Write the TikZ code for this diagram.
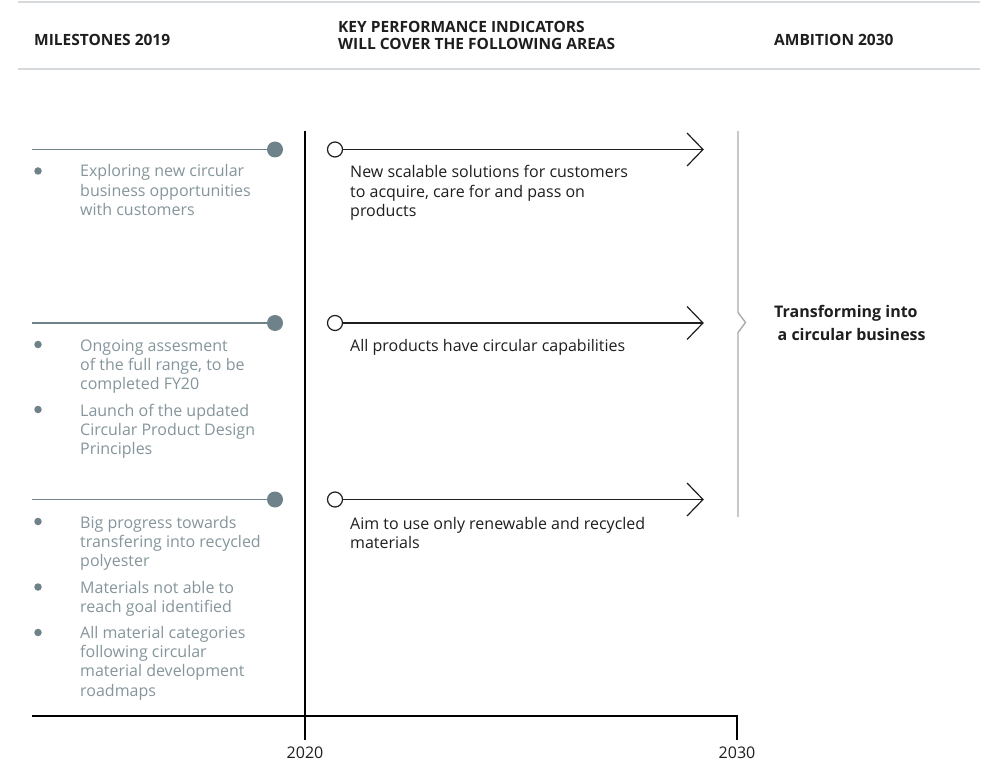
\documentclass[tikz,border=0pt]{standalone}
\usepackage{fontspec}
\setmainfont{Open Sans}
\definecolor{msgray}{HTML}{6F8189}
\definecolor{txtgray}{HTML}{84959B}
\definecolor{rulegray}{HTML}{D6DADC}
\definecolor{bracegray}{HTML}{ABABAB}
\definecolor{ink}{HTML}{1E1E1E}
\tikzset{
  head/.style={font=\bfseries\fontsize{15.5}{17}\selectfont, text=ink, inner sep=0, anchor=base west, align=left},
  mtext/.style={font=\fontsize{16}{19.2}\selectfont, text=txtgray, inner sep=0, anchor=base west, align=left},
  ktext/.style={font=\fontsize{16}{19.2}\selectfont, text=ink, inner sep=0, anchor=base west, align=left},
  atext/.style={font=\bfseries\fontsize{16}{22.5}\selectfont, text=ink, inner sep=0, anchor=base west, align=left},
  ylabel/.style={font=\fontsize{16}{19}\selectfont, text=ink, inner sep=0, anchor=base},
  msdot/.style={circle, fill=msgray, minimum size=16pt, inner sep=0},
  bdot/.style={circle, fill=msgray, minimum size=7.5pt, inner sep=0},
  msline/.style={draw=msgray, line width=1.6pt},
  kpicirc/.style={circle, draw=ink, fill=white, line width=1.2pt, minimum size=15pt, inner sep=0},
  kpiline/.style={draw=ink, line width=1.2pt},
  hrule/.style={draw=rulegray, line width=1.5pt},
  axis/.style={draw=black, line width=1.3pt},
  bracel/.style={draw=bracegray, line width=1.4pt},
}
\begin{document}
\begin{tikzpicture}[x=1pt,y=-1pt]
\useasboundingbox (0,0) rectangle (987,762);
% header rules
\coordinate (ra1) at (18,2); \coordinate (ra2) at (980,2);
\coordinate (rb1) at (18,69); \coordinate (rb2) at (980,69);
\draw[hrule] (ra1) -- (ra2);
\draw[hrule] (rb1) -- (rb2);
% headers (base anchor = baseline of last line)
\node[head] (h1) at (34,45.5) {MILESTONES 2019};
\node[head] (h2) at (338,49.5) {KEY PERFORMANCE INDICATORS\\WILL COVER THE FOLLOWING AREAS};
\node[head] (h3) at (774,45.5) {AMBITION 2030};
% axes
\coordinate (v1) at (305,131); \coordinate (v2) at (305,740);
\coordinate (ax1) at (32,716); \coordinate (ax2) at (737,716); \coordinate (ax3) at (737,740);
\draw[axis] (v1) -- (v2);
\draw[axis] (ax1) -- (ax2) -- (ax3);
\node[ylabel] (y2020) at (305,758) {2020};
\node[ylabel] (y2030) at (737,758) {2030};
% milestone rows
\coordinate (m1s) at (32,149.5); \node[msdot] (m1) at (275,149.5) {};
\coordinate (m2s) at (32,323);   \node[msdot] (m2) at (275,323) {};
\coordinate (m3s) at (32,499.5); \node[msdot] (m3) at (275,499.5) {};
\draw[msline] (m1s) -- (m1);
\draw[msline] (m2s) -- (m2);
\draw[msline] (m3s) -- (m3);
% milestone bullets
\node[bdot] (d11) at (38,171) {};
\node[mtext] (t11) at (80,215.4) {Exploring new circular\\business opportunities\\with customers};
\node[bdot] (d21) at (38,344.5) {};
\node[mtext] (t21) at (80,389.4) {Ongoing assesment\\of the full range, to be\\completed FY20};
\node[bdot] (d22) at (38,409.5) {};
\node[mtext] (t22) at (80,454.4) {Launch of the updated\\Circular Product Design\\Principles};
\node[bdot] (d31) at (38,521.5) {};
\node[mtext] (t31) at (80,566.4) {Big progress towards\\transfering into recycled\\polyester};
\node[bdot] (d32) at (38,587) {};
\node[mtext] (t32) at (80,612.2) {Materials not able to\\reach goal identified};
\node[bdot] (d33) at (38,632.5) {};
\node[mtext] (t33) at (80,696.1) {All material categories\\following circular\\material development\\roadmaps};
% KPI arrows
\node[kpicirc] (k1) at (335,149.5) {}; \coordinate (k1e) at (703,149.5);
\node[kpicirc] (k2) at (335,323) {};   \coordinate (k2e) at (703,323);
\node[kpicirc] (k3) at (335,499.5) {}; \coordinate (k3e) at (703,499.5);
\foreach \k in {k1,k2,k3}{
  \draw[kpiline] (\k) -- (\k e);
  \draw[kpiline] (\k e) ++(-16,-16.5) -- (\k e) -- ++(-16,16.5);
}
\node[ktext] (kt1) at (350,216.4) {New scalable solutions for customers\\to acquire, care for and pass on\\products};
\node[ktext] (kt2) at (350,351.5) {All products have circular capabilities};
\node[ktext] (kt3) at (350,548.2) {Aim to use only renewable and recycled\\materials};
% brace
\coordinate (b1) at (738,131); \coordinate (b2) at (738,312.5); \coordinate (bt) at (745.5,322.5);
\coordinate (b3) at (738,332.5); \coordinate (b4) at (738,517);
\draw[bracel] (b1) -- (b2) -- (bt) -- (b3) -- (b4);
\node[atext] (amb) at (774,340) {Transforming into\\\hspace*{3.5pt}a circular business};
\end{tikzpicture}
\end{document}
